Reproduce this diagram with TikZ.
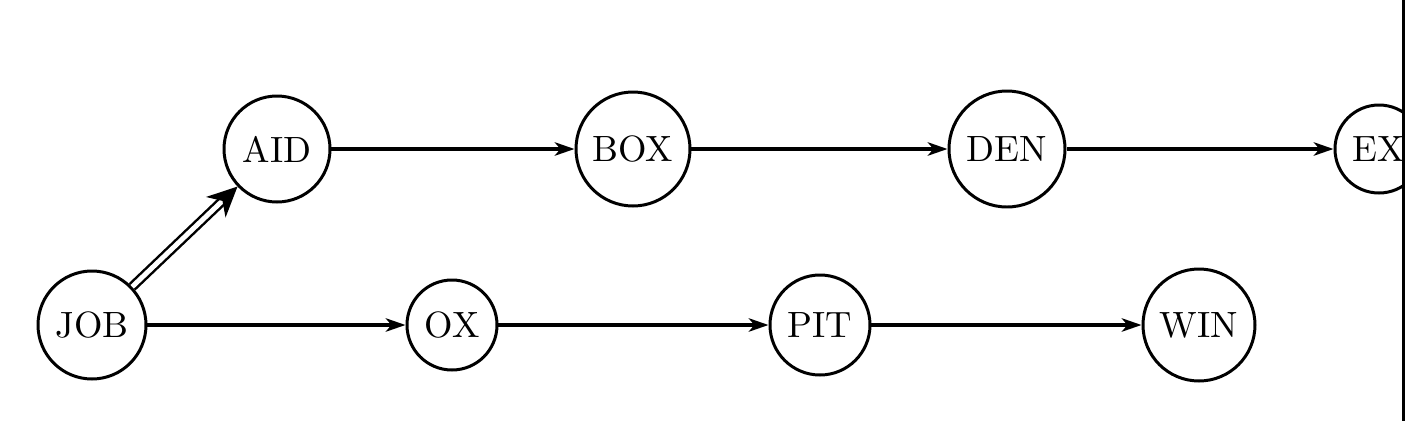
\documentclass[tikz,border=0pt]{standalone}
\usetikzlibrary{arrows.meta}
\begin{document}
\begin{tikzpicture}[x=0.01cm,y=-0.01cm,
  vtx/.style={circle,draw,line width=0.85pt,inner sep=0pt,font=\fontsize{10.4}{12}\selectfont},
  edge/.style={line width=1pt,-{Stealth[length=5.6pt,width=3.8pt,inset=1.6pt]}},
  dedge/.style={double,double distance=1.4pt,line width=0.7pt,-{Stealth[length=8.5pt,width=8pt,inset=2.6pt]}}]
\useasboundingbox (0,0) rectangle (1405,421);
\clip (0,0) rectangle (1405,421);
\node[vtx,minimum size=108*0.01cm] (JOB) at (92,325) {JOB};
\node[vtx,minimum size=106*0.01cm] (AID) at (277,149) {AID};
\node[vtx,minimum size=114*0.01cm] (BOX) at (633,149) {BOX};
\node[vtx,minimum size=116*0.01cm] (DEN) at (1007,149) {DEN};
\node[vtx,minimum size=88*0.01cm] (EX) at (1379,149) {EX};
\node[vtx,minimum size=90*0.01cm] (OX) at (452,325) {OX};
\node[vtx,minimum size=100*0.01cm] (PIT) at (820,325) {PIT};
\node[vtx,minimum size=112*0.01cm] (WIN) at (1199,325) {WIN};
\draw[dedge] (JOB) -- (AID);
\draw[edge] (AID) -- (BOX);
\draw[edge] (BOX) -- (DEN);
\draw[edge] (DEN) -- (EX);
\draw[edge] (JOB) -- (OX);
\draw[edge] (OX) -- (PIT);
\draw[edge] (PIT) -- (WIN);
\coordinate (rt) at (1404,0);
\coordinate (rb) at (1404,421);
\draw[line width=0.9pt] (rt) -- (rb);
\end{tikzpicture}
\end{document}
